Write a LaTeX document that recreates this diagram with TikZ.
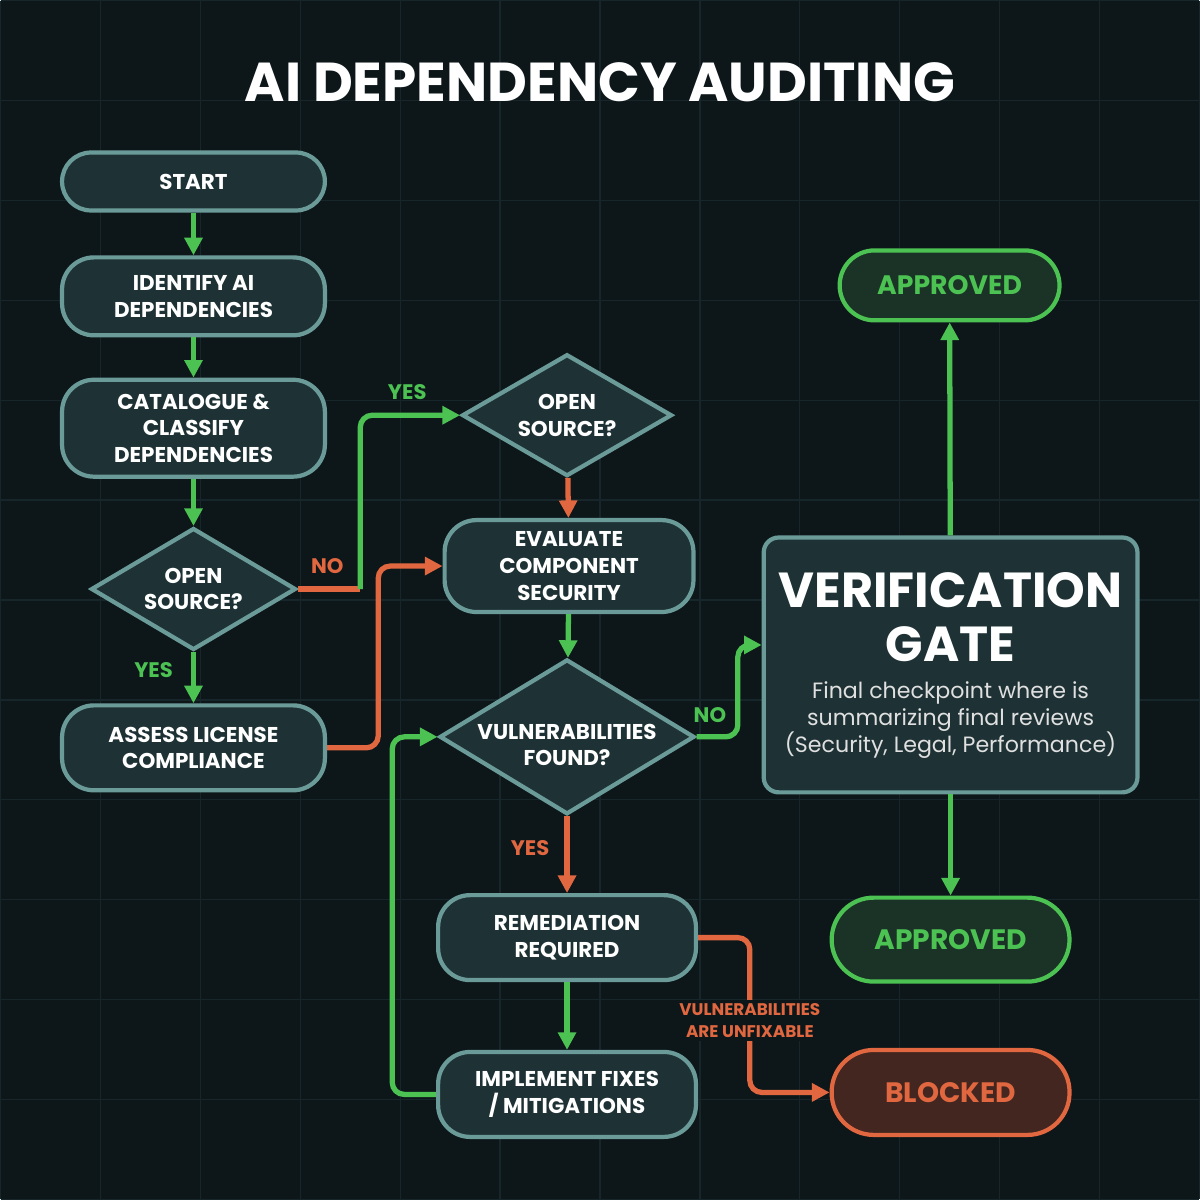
\documentclass[tikz,border=0pt]{standalone}
\usepackage{fontspec}
\setmainfont{Poppins}
\usetikzlibrary{shapes.geometric,arrows.meta}
\definecolor{bg}{HTML}{0D171A}
\definecolor{gridc}{HTML}{17262A}
\definecolor{nfill}{HTML}{1E3235}
\definecolor{nedge}{HTML}{6B9B98}
\definecolor{gr}{HTML}{4CC253}
\definecolor{org}{HTML}{E0673F}
\definecolor{gfill}{HTML}{1A3326}
\definecolor{ofill}{HTML}{42261F}
\begin{document}
\begin{tikzpicture}[x=0.01cm,y=-0.01cm,
 box/.style={draw=nedge,line width=1.2pt,fill=nfill,rounded corners=0.32cm,text=white,align=center,font=\fontsize{6.1}{7.6}\selectfont\bfseries,inner sep=0pt},
 dia/.style={diamond,draw=nedge,line width=1.2pt,fill=nfill,text=white,align=center,font=\fontsize{6.1}{7.6}\selectfont\bfseries,inner sep=0pt,aspect=1.7},
 ga/.style={draw=gr,line width=1.5pt,-{Triangle[length=5pt,width=5pt]},rounded corners=0.12cm},
 oa/.style={draw=org,line width=1.5pt,-{Triangle[length=5pt,width=5pt]},rounded corners=0.12cm},
 lab/.style={font=\fontsize{6}{7.5}\selectfont\bfseries}]
\fill[bg] (0,0) rectangle (1200,1200);
\foreach \i in {0,100,...,1200}{\draw[gridc,line width=0.4pt] (\i,0)--(\i,1200); \draw[gridc,line width=0.4pt] (0,\i)--(1200,\i);}
\node[text=white,font=\fontsize{15.6}{19}\selectfont\bfseries] (title) at (600,82) {AI DEPENDENCY AUDITING};
\node[box,minimum width=2.63cm,minimum height=0.58cm,rounded corners=0.29cm] (start) at (193,181) {START};
\node[box,minimum width=2.63cm,minimum height=0.78cm] (ident) at (193,296) {IDENTIFY AI\\DEPENDENCIES};
\node[box,minimum width=2.63cm,minimum height=0.97cm] (cat) at (193,428) {CATALOGUE \&\\CLASSIFY\\DEPENDENCIES};
\node[dia,minimum width=2.05cm,minimum height=1.22cm] (d1) at (193,589) {OPEN\\SOURCE?};
\node[box,minimum width=2.63cm,minimum height=0.85cm] (assess) at (193,748) {ASSESS LICENSE\\COMPLIANCE};
\node[dia,minimum width=2.1cm,minimum height=1.22cm] (d2) at (567,415) {OPEN\\SOURCE?};
\node[box,minimum width=2.49cm,minimum height=0.92cm] (eval) at (569,566) {EVALUATE\\COMPONENT\\SECURITY};
\node[dia,minimum width=2.55cm,minimum height=1.55cm,aspect=1.65] (d3) at (567,737) {};
\node[text=white,align=center,font=\fontsize{6.1}{7.6}\selectfont\bfseries] (d3t) at (567,745) {VULNERABILITIES\\FOUND?};
\node[box,minimum width=2.58cm,minimum height=0.85cm] (rem) at (567,938) {REMEDIATION\\REQUIRED};
\node[box,minimum width=2.58cm,minimum height=0.85cm] (impl) at (567,1095) {IMPLEMENT FIXES\\/ MITIGATIONS};
\node[box,minimum width=3.74cm,minimum height=2.55cm,rounded corners=0.15cm] (ver) at (951,665) {};
\node[text=white,align=center,font=\fontsize{14}{15.5}\selectfont\bfseries] (vt) at (951,617) {VERIFICATION\\GATE};
\node[text=white!88!black,align=center,font=\fontsize{6.3}{7.7}\selectfont] (vb) at (951,720) {Final checkpoint where is\\summarizing final reviews\\(Security, Legal, Performance)};
\node[box,draw=gr,fill=gfill,text=gr,minimum width=2.2cm,minimum height=0.7cm,rounded corners=0.35cm,font=\fontsize{7.6}{9}\selectfont\bfseries] (ap1) at (950,285) {APPROVED};
\node[box,draw=gr,fill=gfill,text=gr,minimum width=2.38cm,minimum height=0.84cm,rounded corners=0.42cm,font=\fontsize{8}{10}\selectfont\bfseries] (ap2) at (951,940) {APPROVED};
\node[box,draw=org,fill=ofill,text=org,minimum width=2.38cm,minimum height=0.85cm,rounded corners=0.42cm,font=\fontsize{8}{10}\selectfont\bfseries] (blk) at (951,1093) {BLOCKED};
\coordinate (c1) at (360,589);
\draw[ga] (start)--(ident);
\draw[ga] (ident)--(cat);
\draw[ga] (cat)--(d1);
\draw[ga] (d1)--(assess);
\draw[org,line width=1.5pt,rounded corners=0.12cm] (d1.east)--(c1);
\draw[ga] (c1)--(360,415)--(d2.west);
\draw[oa] (assess.east)--(378,748)--(378,566)--(eval.west);
\draw[oa] (d2)--(eval);
\draw[ga] (eval)--(d3);
\draw[ga] (d3.east)--(738,737)--(738,645)--(ver.west |- 0,645);
\draw[oa] (d3)--(rem);
\draw[ga] (rem)--(impl);
\draw[ga] (impl.west)--(392,1095)--(392,737)--(d3.west);
\draw[oa] (rem.east)--(750,938)--(750,1093)--(blk.west);
\draw[ga] (ver)--(ap1);
\draw[ga] (ver)--(ap2);
\node[lab,text=gr] (ly1) at (153,670) {YES};
\node[lab,text=org] (ln1) at (327,566) {NO};
\node[lab,text=gr] (ly2) at (407,392) {YES};
\node[lab,text=gr] (ln3) at (710,715) {NO};
\node[lab,text=org] (ly3) at (530,848) {YES};
\node[text=org,fill=bg,inner sep=1pt,align=center,font=\fontsize{4.8}{6}\selectfont\bfseries] (lu) at (750,1021) {VULNERABILITIES\\ARE UNFIXABLE};
\end{tikzpicture}
\end{document}
